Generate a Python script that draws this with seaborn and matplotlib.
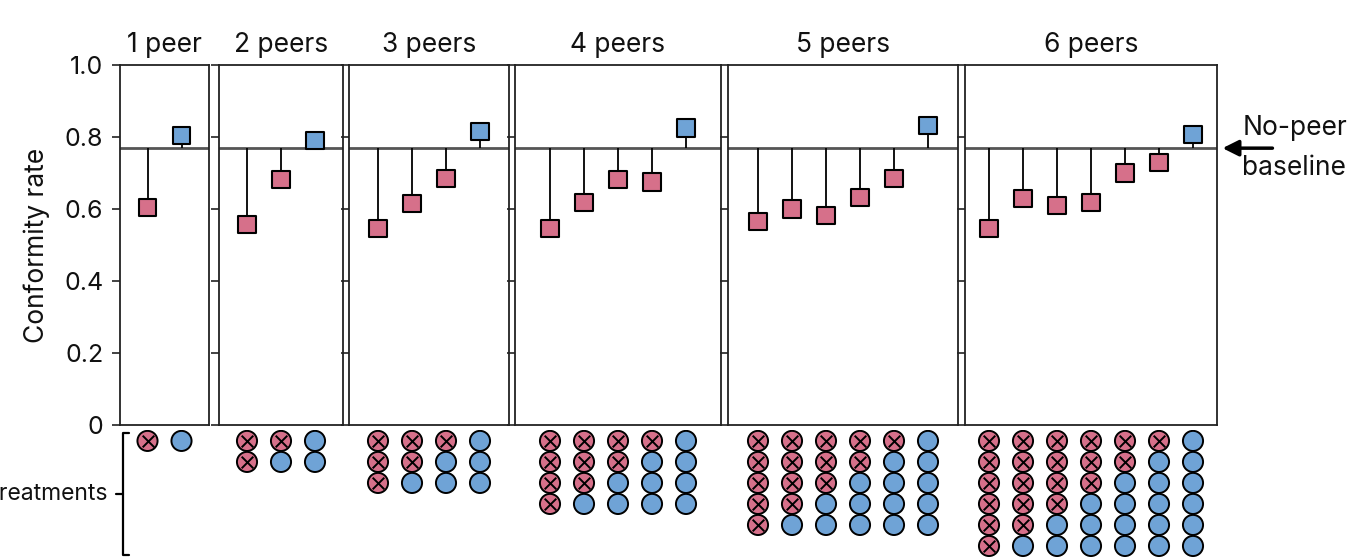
import numpy as np
import pandas as pd
from matplotlib import pyplot as plt
from matplotlib.lines import Line2D
import seaborn as sns

sns.set_theme(style="ticks")
plt.rcParams['font.family'] = ['Inter', 'DejaVu Sans']

# conformity rate per treatment, one list per number of peers
rate_1peer = [0.603, 0.803]
rate_2peers = [0.558, 0.683, 0.789]
rate_3peers = [0.547, 0.614, 0.686, 0.814]
rate_4peers = [0.547, 0.619, 0.683, 0.675, 0.825]
rate_5peers = [0.564, 0.600, 0.581, 0.631, 0.686, 0.831]
rate_6peers = [0.547, 0.628, 0.611, 0.617, 0.700, 0.728, 0.806]
baseline = 0.769

titles = ["1 peer", "2 peers", "3 peers", "4 peers", "5 peers", "6 peers"]
rates = [rate_1peer, rate_2peers, rate_3peers, rate_4peers, rate_5peers, rate_6peers]
yticks = [0, 0.2, 0.4, 0.6, 0.8, 1.0]
ytick_labels = ["0", "0.2", "0.4", "0.6", "0.8", "1.0"]

RED = "#d6708a"
BLUE = "#6fa3d6"
W, H = 1349, 559

# panel boxes in pixels (left, right)
boxes = [(120, 209), (219, 343), (349, 509), (515, 721), (728, 958), (965, 1217)]
top_px, bot_px = 65, 425
step = 34.0

fig = plt.figure(figsize=(W / 100, H / 100), dpi=100)

for i, (rate, title, (l, r)) in enumerate(zip(rates, titles, boxes)):
    n = len(rate)
    half = ((r - l) - (n - 1) * step) / 2 / step
    ax = fig.add_axes([l / W, (H - bot_px) / H, (r - l) / W, (bot_px - top_px) / H])
    df = pd.DataFrame({"treatment": np.arange(n), "rate": rate,
                       "kind": ["red"] * (n - 1) + ["blue"]})
    ax.axhline(baseline, color="#555555", lw=2, zorder=1)
    ax.vlines(df["treatment"], baseline, df["rate"], color="black", lw=1.3, zorder=2)
    sns.scatterplot(data=df, x="treatment", y="rate", hue="kind",
                    palette={"red": RED, "blue": BLUE}, marker="s", s=150,
                    edgecolor="black", linewidth=1.5, legend=False, zorder=3, ax=ax)
    ax.set_xlim(-half, n - 1 + half)
    ax.set_ylim(0, 1)
    ax.set_xticks([])
    ax.set_yticks(yticks)
    ax.set_xlabel("")
    ax.set_ylabel("")
    for s in ax.spines.values():
        s.set_color("#222222")
        s.set_linewidth(1.3)
    ax.tick_params(axis="y", direction="out", length=6, width=1.2, color="#222222",
                   labelsize=18, labelcolor="#111111", pad=6)
    if i == 0:
        ax.set_yticklabels(ytick_labels)
        ax.set_ylabel("Conformity rate", fontsize=19, labelpad=10, color="#111111")
    else:
        ax.set_yticklabels([])
    ax.set_title(title, fontsize=19, pad=9, color="#111111")

    # treatment composition dots below the panel
    dax = fig.add_axes([l / W, 0, (r - l) / W, (H - 430) / H])
    cols, rows, kinds = [], [], []
    for j in range(n):
        for k in range(n - 1):
            cols.append(j)
            rows.append(k)
            kinds.append("x" if k < (n - 1 - j) else "o")
    dots = pd.DataFrame({"col": cols, "row": rows, "kind": kinds})
    sns.scatterplot(data=dots, x="col", y="row", hue="kind",
                    palette={"x": RED, "o": BLUE}, marker="o", s=210,
                    edgecolor="black", linewidth=1.4, legend=False, ax=dax)
    xs = dots[dots["kind"] == "x"]
    dax.scatter(xs["col"], xs["row"], marker="x", s=70, color="black", linewidths=1.4, zorder=4)
    dax.set_xlim(-half, n - 1 + half)
    dax.set_ylim(5.62, -0.52)
    dax.axis("off")

    if i == 5:
        tr = ax.get_yaxis_transform()
        ax.annotate("", xy=(1.022, baseline), xytext=(1.22, baseline),
                    xycoords=tr, textcoords=tr, annotation_clip=False,
                    arrowprops=dict(arrowstyle="-|>,head_length=0.8,head_width=0.4",
                                    color="black", lw=2.5, shrinkA=0, shrinkB=0))
        ax.text(1.10, 0.825, "No-peer", transform=tr, fontsize=19, va="center", ha="left",
                color="#111111")
        ax.text(1.10, 0.715, "baseline", transform=tr, fontsize=19, va="center", ha="left",
                color="#111111")

# bracket grouping the treatment rows
bx = 123 / W
y0, y1, ym = (H - 555) / H, (H - 433) / H, (H - 494) / H
fig.add_artist(Line2D([bx + 6 / W, bx, bx, bx + 6 / W], [y1, y1, y0, y0],
                      color="black", lw=1.6, transform=fig.transFigure))
fig.add_artist(Line2D([bx - 7 / W, bx], [ym, ym], color="black", lw=1.6,
                      transform=fig.transFigure))
fig.text(bx - 15 / W, ym, "Treatments", fontsize=16.5, ha="right", va="center",
         color="#111111")

fig.savefig("out.png", dpi=100)
